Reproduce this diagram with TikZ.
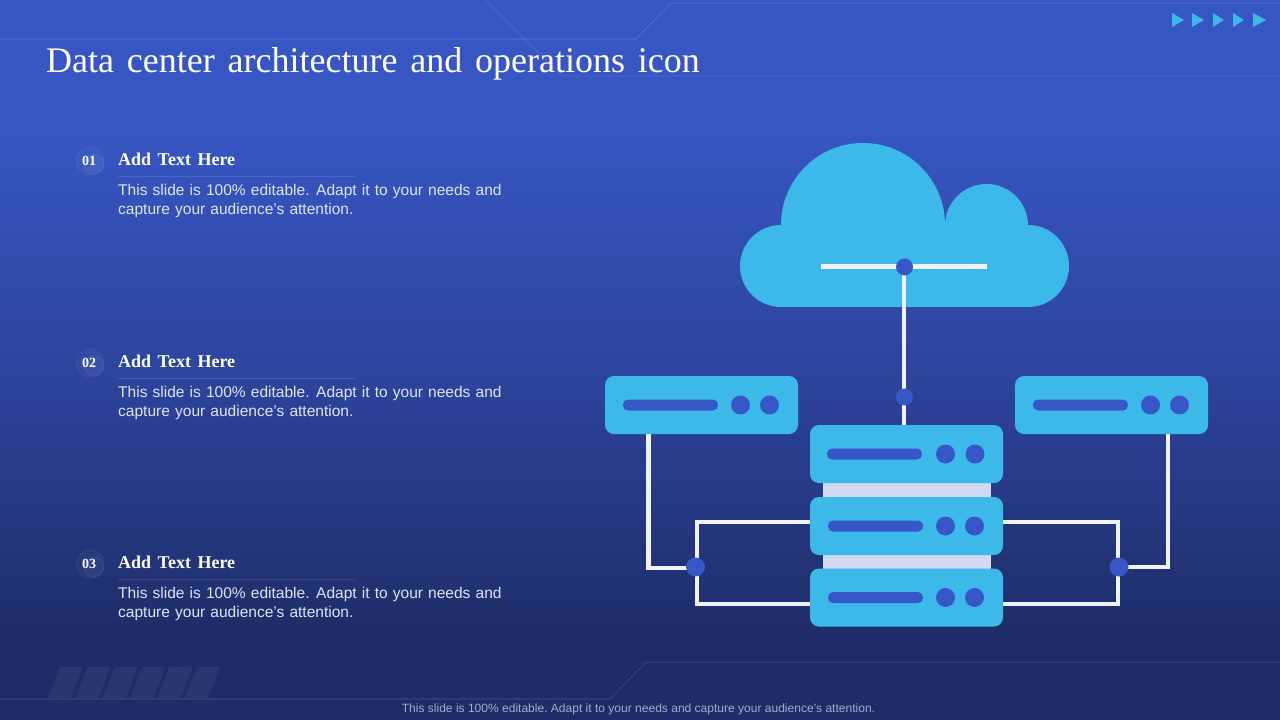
\documentclass[tikz,border=0pt]{standalone}
\usepackage{fontspec}
\setmainfont{Liberation Sans}
\newfontfamily\serifface{Liberation Serif}
\usetikzlibrary{calc}
\definecolor{sky}{HTML}{3DB9E9}
\definecolor{royal}{HTML}{3857C7}
\definecolor{pale}{HTML}{D0D8F2}
\definecolor{wirecol}{HTML}{F0F3FC}
\definecolor{bgtop}{HTML}{3756C3}
\definecolor{bgmid}{HTML}{2E459F}
\definecolor{bgbot}{HTML}{1E2D69}
\pgfdeclareverticalshading{slidebg}{100bp}{
 color(0bp)=(bgbot); color(31bp)=(bgbot); color(50bp)=(bgmid); color(66bp)=(bgtop); color(100bp)=(bgtop)}
\tikzset{
 x=1pt,y=-1pt,
 server/.style={draw=none,fill=sky,rounded corners=9pt,minimum width=193pt,minimum height=58pt,inner sep=0pt},
 wire/.style={draw=wirecol,line width=4.5pt,line join=miter},
 junction/.style={circle,fill=royal,draw=none,inner sep=0pt,minimum size=#1},
 bar/.style={fill=royal,rounded corners=5pt,minimum width=95pt,minimum height=11pt,inner sep=0pt},
 led/.style={circle,fill=royal,minimum size=19pt,inner sep=0pt},
 deco/.style={draw=white,draw opacity=.1,line width=1.2pt},
 head/.style={anchor=base west,inner sep=0pt,text=white,font=\serifface\bfseries\fontsize{18}{20}\selectfont},
 body/.style={anchor=north west,text=pale!70!white,font=\fontsize{15.53}{19.2}\selectfont,align=left,inner sep=0pt},
 num/.style={text=white,font=\serifface\bfseries\fontsize{14}{16}\selectfont,inner sep=0pt},
 stripe/.style={fill=white,fill opacity=.05,draw=none},
 tri/.style={fill=sky,draw=none},
 ring/.style={draw=white,draw opacity=.06,line width=.7pt}
}
\begin{document}
\begin{tikzpicture}
\useasboundingbox (0,0) rectangle (1280,720);
\shade[shading=slidebg] (0,0) rectangle (1280,720);
% decoration
\draw[deco] (0,39) -- (636,39) -- (671,3) -- (1280,3);
\draw[deco,draw opacity=.07] (486,0) -- (562,76) -- (1280,76);
\draw[deco] (0,699) -- (610,699) -- (646,662) -- (1280,662);
\foreach \i in {0,...,5}{
 \fill[stripe] ($(60,667)+(\i*27.4,0)$) -- ++(23,0) -- ++(-12,31) -- ++(-23,0) -- cycle;
}
\foreach \i/\w in {1172/12,1192/12,1213/11,1233/11,1253/13}{
 \fill[tri] (\i,13) -- (\i+\w,20) -- (\i,27) -- cycle;
}
% title
\node[anchor=base west,inner sep=0pt,text=white,font=\serifface\fontsize{36}{40}\selectfont] (title) at (46,72) {\spaceskip=12.8pt Data center architecture and operations icon};
% text blocks
\foreach \n/\lab/\y in {a/01/0,b/02/202,c/03/403}{
 \draw[draw=white,draw opacity=.12,line width=.8pt] (118,176+\y) -- (355,176+\y);
 \draw[ring] (90,161+\y) circle (14);
 \fill[white,fill opacity=.03] (90,161+\y) circle (14);
 \draw[ring,draw opacity=.08] (94,164+\y) circle (10);
 \fill[white,fill opacity=.04] (94,164+\y) circle (10);
 \node[num] (num\n) at (89,161+\y) {\lab};
 \node[head] (head\n) at (118,165+\y) {\spaceskip=6.5pt Add Text Here};
 \node[body] (body\n) at (118,184+\y) {\spaceskip=5.13pt This slide is 100\% editable. Adapt it to your needs and\\\spaceskip=5.13pt capture your audience's attention.};
}
% cloud
\fill[sky] (863,225) circle (82);
\fill[sky] (986.5,225.5) circle (41.5);
\fill[sky] (781,266) circle (41);
\fill[sky] (1028,266) circle (41);
\fill[sky] (781,225) rectangle (1028,307);
% anchors
\node[inner sep=0pt,minimum size=0pt] (cloudbar) at (904,267) {};
\coordinate (cl) at (821,266.5);
\coordinate (cr) at (987,266.5);
\coordinate (ldrop) at (648.5,434);
\coordinate (rdrop) at (1168,434);
\coordinate (jl1) at (810,522);
\coordinate (jl2) at (810,604);
\coordinate (jr1) at (1003,522);
\coordinate (jr2) at (1003,604);
\coordinate (toptap) at (904,425);
% rack spacers
\fill[pale] (823,480) rectangle (991,500);
\fill[pale] (823,552) rectangle (991,571);
% wires
\draw[wire] (cl) -- (cr);
\draw[wire] (cloudbar.center) -- (toptap);
\draw[wire] (ldrop) |- (696,568);
\draw[wire] (rdrop) |- (1119,567);
\draw[wire] (jl1) -- (697,522) -- (697,604) -- (jl2);
\draw[wire] (jr1) -- (1118,522) -- (1118,604) -- (jr2);
% junctions
\node[junction=17pt] (j0) at (904.5,267) {};
\node[junction=17pt] (j1) at (904.5,397) {};
\node[junction=19pt] (j2) at (695.5,567) {};
\node[junction=19pt] (j3) at (1119,567) {};
% servers
\foreach \nm/\cx/\cy/\bx/\lx/\ly in {
 sl/701.5/405/670.5/740.5/769.5,
 sr/1111.5/405/1080.5/1150.5/1179.5,
 st/906.5/454/874.5/945.5/975,
 sm/906.5/526/875.5/945.5/974.5,
 sb/906.5/597.5/875.5/945.5/974.5}{
 \node[server] (\nm) at (\cx,\cy) {};
 \node[bar] (\nm bar) at (\bx,\cy) {};
 \node[led] (\nm a) at (\lx,\cy) {};
 \node[led] (\nm b) at (\ly,\cy) {};
}
% footer
\node[anchor=base,inner sep=0pt,text=white,text opacity=.6,font=\fontsize{12.03}{14}\selectfont] (foot) at (638.5,712.5) {\frenchspacing This slide is 100\% editable. Adapt it to your needs and capture your audience's attention.};
\end{tikzpicture}
\end{document}
